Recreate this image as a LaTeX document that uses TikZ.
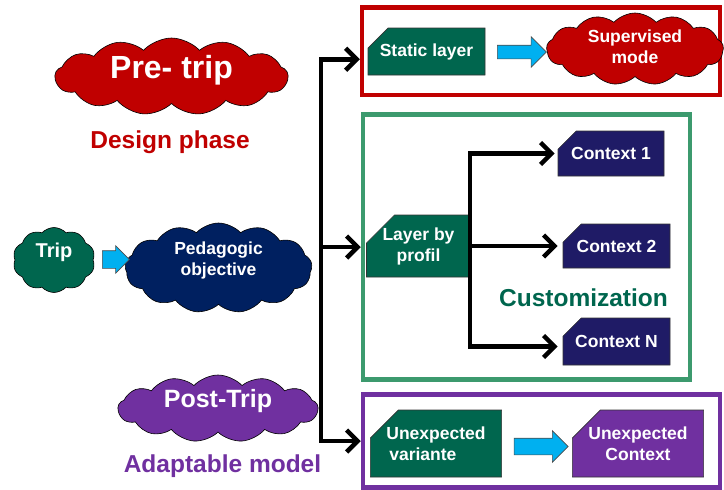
\documentclass[tikz,border=0pt]{standalone}
\usepackage{fontspec}
\setmainfont{Liberation Sans}
\usetikzlibrary{shapes.symbols,shapes.misc,shapes.arrows,arrows.meta,positioning}
\definecolor{prered}{HTML}{C00000}
\definecolor{darkteal}{HTML}{00664E}
\definecolor{nightblue}{HTML}{002060}
\definecolor{indigobox}{HTML}{1F1B66}
\definecolor{postpurple}{HTML}{7030A0}
\definecolor{frameteal}{HTML}{3C9A6E}
\definecolor{skyarrow}{HTML}{00B0F0}
\begin{document}
\begin{tikzpicture}[x=1pt,y=-1pt,
    bubble/.style={cloud,cloud puffs=13,cloud puff arc=95,cloud ignores aspect,draw=black,line width=.6pt,inner sep=0pt},
    bubbletxt/.style={text=white,font=\bfseries\fontsize{17.5}{21}\selectfont,align=center},
    card/.style={chamfered rectangle,chamfered rectangle corners=north west,chamfered rectangle xsep=16pt,chamfered rectangle ysep=12pt,draw=black!80,line width=.6pt,text=white,font=\bfseries\fontsize{17.5}{21}\selectfont,inner sep=0pt},
    frame/.style={draw=#1,line width=4.5pt,inner sep=0pt},
    blockarr/.style={single arrow,fill=skyarrow,draw=black!70,line width=.6pt,inner sep=0pt,single arrow head extend=#1},
    flow/.style={line width=4.5pt,-{Straight Barb[length=11pt,width=22pt]}},
    caption/.style={font=\bfseries\fontsize{24.5}{28}\selectfont,anchor=base}]
  \useasboundingbox (0,0) rectangle (724,490);
  % left side: phases
  \node[bubble,fill=prered,minimum width=233,minimum height=77,
        label={[text=white,font=\bfseries\fontsize{32}{36}\selectfont,yshift=6pt]center:Pre- trip}] (pretrip) at (171.5,76.5) {};
  \node[caption,text=prered] (design) at (170,148) {Design phase};
  \node[bubble,cloud puffs=10,fill=darkteal,minimum width=82,minimum height=65,
        label={[text=white,font=\bfseries\fontsize{20}{24}\selectfont,yshift=8pt]center:Trip}] (trip) at (54,260) {};
  \node[bubble,fill=nightblue,minimum width=187,minimum height=90,
        label={[bubbletxt,yshift=8pt]center:Pedagogic\\objective}] (pedago) at (218.5,268) {};
  \node[blockarr=5pt,minimum height=27] (arr1) at (111.5,259.5) {\rule{0pt}{17pt}};
  \node[bubble,fill=postpurple,minimum width=200,minimum height=67,
        label={[text=white,font=\bfseries\fontsize{25}{28}\selectfont,yshift=7pt]center:Post-Trip}] (posttrip) at (218,408.5) {};
  \node[caption,text=postpurple] (adapt) at (222.5,472) {Adaptable model};
  % frames
  \node[frame=prered,minimum width=358,minimum height=87.5] (preframe) at (541,51.25) {};
  \node[frame=frameteal,minimum width=327,minimum height=265] (custframe) at (526.5,247) {};
  \node[frame=postpurple,minimum width=357,minimum height=93] (postframe) at (541.5,441) {};
  % trunk
  \coordinate (trunk) at (321,247);
  \draw[flow] (trunk) |- ([yshift=-8pt]preframe.west);
  \draw[flow] (trunk) -- (custframe.west);
  \draw[flow] (trunk) |- (postframe.west);
  % design phase
  \node[card,fill=darkteal,minimum width=117,minimum height=47] (static) at (426.5,51.5) {Static layer};
  \node[blockarr=8.5pt,minimum height=49] (arr2) at (518.5,52) {\rule{0pt}{13pt}};
  \node[bubble,fill=prered,minimum width=177,minimum height=72,
        label={[bubbletxt,yshift=2pt]center:Supervised\\mode}] (superv) at (635,49) {};
  % customization
  \node[card,fill=darkteal,minimum width=91,minimum height=62,align=center] (layer) at (418.5,246) {Layer by\\profil};
  \node[card,fill=indigobox,minimum width=106,minimum height=45] (ctx1) at (611,153.5) {Context 1};
  \node[card,fill=indigobox,minimum width=107,minimum height=44] (ctx2) at (616.5,246) {Context 2};
  \node[card,fill=indigobox,minimum width=107,minimum height=47] (ctxn) at (616.5,341.5) {Context N};
  \node[caption,text=darkteal] (custom) at (583.5,306) {Customization};
  \coordinate (fork) at (470,246);
  \draw[flow,shorten >=5pt] (layer.east) -- (ctx2.west);
  \draw[flow,shorten >=3pt] (fork) |- (ctx1.west);
  \draw[flow,shorten >=5pt] (fork) |- ([yshift=-5pt]ctxn.west);
  % adaptable model
  \node[card,fill=darkteal,minimum width=128,minimum height=67,align=left] (unvar) at (436,443.5) {Unexpected\\\,variante};
  \node[blockarr=7.5pt,minimum height=54] (arr3) at (537,446.5) {\rule{0pt}{16pt}};
  \node[card,fill=postpurple,minimum width=130,minimum height=67,align=center] (unctx) at (638,443.5) {Unexpected\\Context};
\end{tikzpicture}
\end{document}
